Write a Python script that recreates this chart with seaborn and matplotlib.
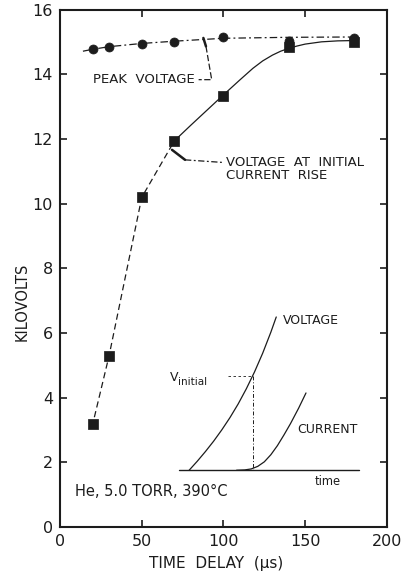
import numpy as np
import pandas as pd
import seaborn as sns
import matplotlib.pyplot as plt

# measured points
delay = [20, 30, 50, 70, 100, 140, 180]
peak_kv = [14.78, 14.85, 14.95, 15.0, 15.15, 15.05, 15.12]
initial_kv = [3.19, 5.29, 10.2, 11.95, 13.35, 14.84, 15.0]

# hand-drawn guide curves
peak_fit_x = [14, 20, 30, 50, 70, 100, 140, 180]
peak_fit_y = [14.72, 14.78, 14.86, 14.96, 15.03, 15.12, 15.15, 15.16]
dash_fit_x = [21, 30, 50, 70]
dash_fit_y = [3.4, 5.3, 10.2, 11.95]
solid_fit_x = [70, 80, 90, 100, 110, 118, 124, 130, 135, 140, 145, 150, 160, 170, 180]
solid_fit_y = [11.95, 12.43, 12.9, 13.37, 13.83, 14.19, 14.42, 14.6, 14.72,
               14.81, 14.88, 14.94, 15.01, 15.04, 15.05]

# inset sketch (voltage / current vs time)
inset_base_x = [73, 183]
inset_base_y = [1.76, 1.76]
inset_v_x = [79, 84, 89, 94, 99, 104, 109, 114, 119, 124, 129, 132.3]
inset_v_y = [1.76, 2.04, 2.34, 2.66, 3.01, 3.39, 3.81, 4.28, 4.8, 5.38, 6.03, 6.5]
inset_i_x = [108, 113, 117, 121, 125, 129, 133, 137, 141, 146, 150.5]
inset_i_y = [1.76, 1.77, 1.8, 1.88, 2.02, 2.24, 2.52, 2.85, 3.2, 3.68, 4.15]

sns.set_style("ticks")
plt.rcParams["font.family"] = ["DejaVu Sans"]
ink = "#1c1c1c"

fig = plt.figure(figsize=(4.03, 5.78), dpi=100)
ax = fig.add_axes([0.149, 0.088, 0.811, 0.895])

sns.lineplot(x=peak_fit_x, y=peak_fit_y, ax=ax, color=ink, lw=0.9,
             linestyle=(0, (6, 2.5, 1.5, 2.5)), sort=False)
sns.lineplot(x=dash_fit_x, y=dash_fit_y, ax=ax, color=ink, lw=0.9,
             linestyle=(0, (5, 3)), sort=False)
sns.lineplot(x=solid_fit_x, y=solid_fit_y, ax=ax, color=ink, lw=0.9, sort=False)

sns.scatterplot(x=delay, y=peak_kv, ax=ax, marker="o", s=42, color=ink,
                edgecolor=ink, zorder=5)
sns.scatterplot(x=delay, y=initial_kv, ax=ax, marker="s", s=42, color=ink,
                edgecolor=ink, zorder=5)

# leaders for the labels
ax.plot([87.7, 89.3], [15.13, 14.87], color=ink, lw=1.8)
ax.plot([89.3, 92.8, 84.8], [14.87, 13.84, 13.84], color=ink, lw=0.9,
        linestyle=(0, (5, 2)))
ax.plot([68.5, 76.5], [11.67, 11.36], color=ink, lw=1.8)
ax.plot([76.5, 99.5], [11.36, 11.28], color=ink, lw=0.9,
        linestyle=(0, (5, 2, 1.5, 2)))
ax.text(20.3, 13.84, "PEAK  VOLTAGE", fontsize=9.5, va="center", color=ink)
ax.text(101.3, 11.07, "VOLTAGE  AT  INITIAL\nCURRENT  RISE", fontsize=9.5,
        va="center", color=ink, linespacing=0.95)

# inset schematic
sns.lineplot(x=inset_base_x, y=inset_base_y, ax=ax, color=ink, lw=1.0, sort=False)
sns.lineplot(x=inset_v_x, y=inset_v_y, ax=ax, color=ink, lw=0.9, sort=False)
sns.lineplot(x=inset_i_x, y=inset_i_y, ax=ax, color=ink, lw=0.9, sort=False)
ax.plot([117.8, 117.8], [4.68, 1.76], color=ink, lw=0.7, linestyle=(0, (4, 2, 1, 2)))
ax.plot([103, 117.8], [4.68, 4.68], color=ink, lw=0.6, linestyle=(0, (3, 3)))
ax.text(67.3, 4.62, "V", fontsize=9, va="center", color=ink)
ax.text(72.2, 4.5, "initial", fontsize=7.5, va="center", color=ink)
ax.text(136.4, 6.4, "VOLTAGE", fontsize=9, va="center", color=ink)
ax.text(145, 3.03, "CURRENT", fontsize=9, va="center", color=ink)
ax.text(156, 1.42, "time", fontsize=8.3, va="center", color=ink)

ax.text(9.2, 1.09, "He, 5.0 TORR, 390°C", fontsize=10.5, va="center", color=ink)

ax.set_xlim(0, 200)
ax.set_ylim(0, 16)
ax.set_xticks([0, 50, 100, 150, 200])
ax.set_yticks(range(0, 17, 2))
ax.tick_params(direction="in", length=5, width=1.2, top=True, right=True,
               labelsize=11.5, colors=ink, pad=5)
for sp in ax.spines.values():
    sp.set_linewidth(1.5)
    sp.set_color(ink)
ax.set_xlabel("TIME  DELAY  (μs)", fontsize=11, color=ink, labelpad=6)
ax.set_ylabel("KILOVOLTS", fontsize=10.5, color=ink)
ax.yaxis.set_label_coords(-0.092, 0.435)
ax.xaxis.set_label_coords(0.479, -0.055)

fig.savefig("out.png", dpi=100)
